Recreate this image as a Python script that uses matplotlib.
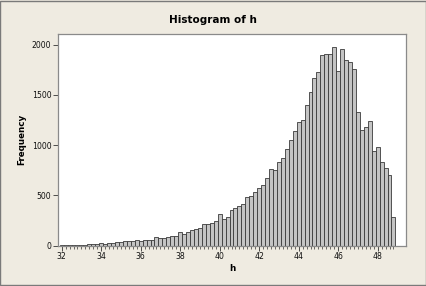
import numpy as np
import matplotlib
matplotlib.use("Agg")
import matplotlib.pyplot as plt

# bin midpoints (width 0.2) from 32.0 to 48.8
bin_width = 0.2
bin_centers = np.round(np.arange(32.0, 48.81, bin_width), 1)
counts = [2, 2, 3, 4, 5, 6, 8, 10, 12, 15,
          20, 18, 25, 28, 33, 38, 40, 45, 48, 52,
          48, 58, 52, 58, 85, 70, 72, 88, 95, 95,
          135, 118, 135, 155, 160, 170, 212, 215, 225, 240,
          315, 265, 285, 357, 378, 397, 417, 485, 497, 530,
          568, 607, 670, 764, 750, 827, 873, 966, 1050, 1140,
          1228, 1255, 1403, 1527, 1665, 1725, 1895, 1912, 1908, 1982,
          1742, 1958, 1845, 1832, 1762, 1325, 1152, 1178, 1245, 945,
          982, 832, 775, 705, 282]
x_ticks = [32, 34, 36, 38, 40, 42, 44, 46, 48]
y_ticks = [0, 500, 1000, 1500, 2000]

plt.rcParams['font.family'] = ['DejaVu Sans']
bg = '#EFEBE1'
fig = plt.figure(figsize=(4.27, 2.86), dpi=100, facecolor=bg)
# outer border
fig.patches.append(plt.Rectangle((0.001, 0.002), 0.997, 0.995, transform=fig.transFigure,
                                 fill=False, edgecolor='#7a7a7a', linewidth=1.0))

ax = fig.add_axes([58.3 / 427, 1 - 245.5 / 286, (405.7 - 58.3) / 427, (245.5 - 34) / 286])
ax.set_facecolor('white')
ax.bar(bin_centers, counts, width=bin_width, color='#C4C4C4', edgecolor='#3a3a3a',
       linewidth=0.6, align='center')

ax.set_xlim(31.83, 49.42)
ax.set_ylim(0, 2107)
ax.set_xticks(x_ticks)
ax.set_xticks(bin_centers, minor=True)
ax.set_yticks(y_ticks)
ax.tick_params(axis='both', which='major', direction='out', length=3.5, width=0.6,
               color='#333333', labelsize=5.6, pad=1.5, labelcolor='#111111')
ax.tick_params(axis='x', which='minor', direction='out', length=1.8, width=0.5, color='#333333')
for s in ax.spines.values():
    s.set_color('#8a8a8a')
    s.set_linewidth(0.9)

ax.set_xlabel('h', fontsize=6.3, fontweight='bold', labelpad=2)
ax.set_ylabel('Frequency', fontsize=6.3, fontweight='bold', labelpad=4)
fig.text(213 / 427, 1 - 20 / 286, 'Histogram of h', ha='center', va='center',
         fontsize=7.5, fontweight='bold')

fig.savefig('out.png', dpi=100, facecolor=bg)
